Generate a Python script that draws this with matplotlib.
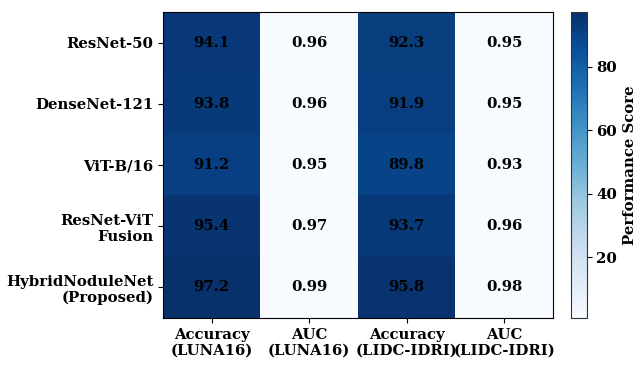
import matplotlib
matplotlib.use("Agg")
import matplotlib.pyplot as plt
import numpy as np

models = ["ResNet-50", "DenseNet-121", "ViT-B/16", "ResNet-ViT\nFusion", "HybridNoduleNet\n(Proposed)"]
metrics = ["Accuracy\n(LUNA16)", "AUC\n(LUNA16)", "Accuracy\n(LIDC-IDRI)", "AUC\n(LIDC-IDRI)"]
acc_luna = [94.1, 93.8, 91.2, 95.4, 97.2]
auc_luna = [0.96, 0.96, 0.95, 0.97, 0.99]
acc_lidc = [92.3, 91.9, 89.8, 93.7, 95.8]
auc_lidc = [0.95, 0.95, 0.93, 0.96, 0.98]

plt.rcParams["font.family"] = "DejaVu Serif"
plt.rcParams["font.weight"] = "bold"
plt.rcParams["font.size"] = 10.7

scores = np.column_stack([acc_luna, auc_luna, acc_lidc, auc_lidc])

fig = plt.figure(figsize=(6.39, 3.65), dpi=100)
ax = fig.add_axes([0.255, 0.129, 0.610, 0.838])
cax = fig.add_axes([0.894, 0.129, 0.024, 0.838])

im = ax.imshow(scores, cmap="Blues", aspect="auto")
for i in range(scores.shape[0]):
    for j in range(scores.shape[1]):
        v = scores[i, j]
        txt = f"{v:.1f}" if v > 1 else f"{v:.2f}"
        ax.text(j, i, txt, ha="center", va="center", color="black",
                fontweight="bold", fontsize=10.7)

ax.set_xticks(range(len(metrics)))
ax.set_xticklabels(metrics, fontweight="bold")
ax.set_yticks(range(len(models)))
ax.set_yticklabels(models, fontweight="bold")

cb = fig.colorbar(im, cax=cax)
cb.set_label("Performance Score", fontweight="bold")
cb.outline.set_edgecolor("#333333")
for t in cb.ax.get_yticklabels():
    t.set_fontweight("bold")

fig.savefig("out.png", dpi=100)
